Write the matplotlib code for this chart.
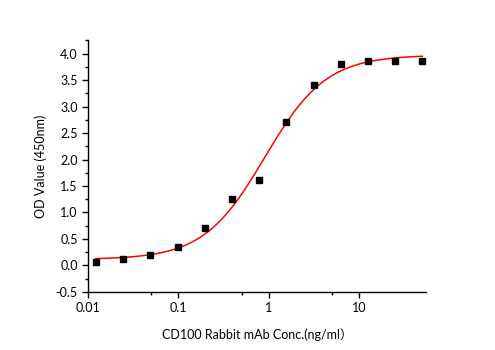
import numpy as np
import matplotlib
matplotlib.use("Agg")
import matplotlib.pyplot as plt
from matplotlib.ticker import FixedLocator, MultipleLocator, FixedFormatter

plt.rcParams['font.family'] = ['Lato', 'Noto Sans CJK SC', 'DejaVu Sans']

# concentration (ng/ml), 2-fold dilution series
conc = [0.0122, 0.0244, 0.0488, 0.0977, 0.195, 0.39, 0.78,
        1.5625, 3.125, 6.25, 12.5, 25, 50]
od = [0.06, 0.12, 0.19, 0.34, 0.70, 1.25, 1.61,
      2.71, 3.41, 3.80, 3.86, 3.86, 3.86]

x_ticks = [0.01, 0.1, 1, 10]
x_tick_labels = ['0.01', '0.1', '1', '10']

x = np.array(conc)
y = np.array(od)

# 4PL fit (logistic): grid over x0 / p, linear solve for bottom / top
best = None
for lx0 in np.linspace(-1, 1, 401):
    for p in np.linspace(0.5, 3, 251):
        f = 1.0 / (1.0 + (x / 10**lx0) ** p)
        A = np.column_stack([f, 1 - f])
        coef, res, _, _ = np.linalg.lstsq(A, y, rcond=None)
        sse = np.sum((A @ coef - y) ** 2)
        if best is None or sse < best[0]:
            best = (sse, lx0, p, coef)
_, lx0, p, (a1, a2) = best

xf = np.logspace(np.log10(conc[0]), np.log10(conc[-1]), 300)
yf = a2 + (a1 - a2) / (1 + (xf / 10**lx0) ** p)

fig = plt.figure(figsize=(4.95, 3.5), dpi=100)
ax = fig.add_axes([0.178, 0.166, 0.683, 0.72])

ax.plot(xf, yf, color='red', lw=1.1, zorder=2)
ax.plot(conc, od, 's', color='black', ms=4.2, zorder=3)

ax.set_xscale('log')
ax.set_xlim(0.01, 55)
ax.set_ylim(-0.5, 4.26)

ax.xaxis.set_major_locator(FixedLocator(x_ticks))
ax.xaxis.set_major_formatter(FixedFormatter(x_tick_labels))
ax.xaxis.set_minor_locator(FixedLocator([0.05, 0.5, 5]))
ax.xaxis.set_minor_formatter(FixedFormatter(['', '', '']))
ax.yaxis.set_major_locator(MultipleLocator(0.5))
ax.yaxis.set_minor_locator(MultipleLocator(0.25))
ax.yaxis.set_major_formatter(plt.FuncFormatter(lambda v, _: f'{v:.1f}'))

ax.spines['top'].set_visible(False)
ax.spines['right'].set_visible(False)
ax.spines['left'].set_linewidth(1.0)
ax.spines['bottom'].set_linewidth(1.0)
ax.tick_params(which='major', direction='out', length=4, width=1.0, labelsize=9)
ax.tick_params(which='minor', direction='out', length=2.5, width=1.0)

ax.set_xlabel('CD100 Rabbit mAb Conc.(ng/ml）', fontsize=9, labelpad=10)
ax.set_ylabel('OD Value (450nm)', fontsize=9, labelpad=6)

fig.savefig('out.png', dpi=100)
